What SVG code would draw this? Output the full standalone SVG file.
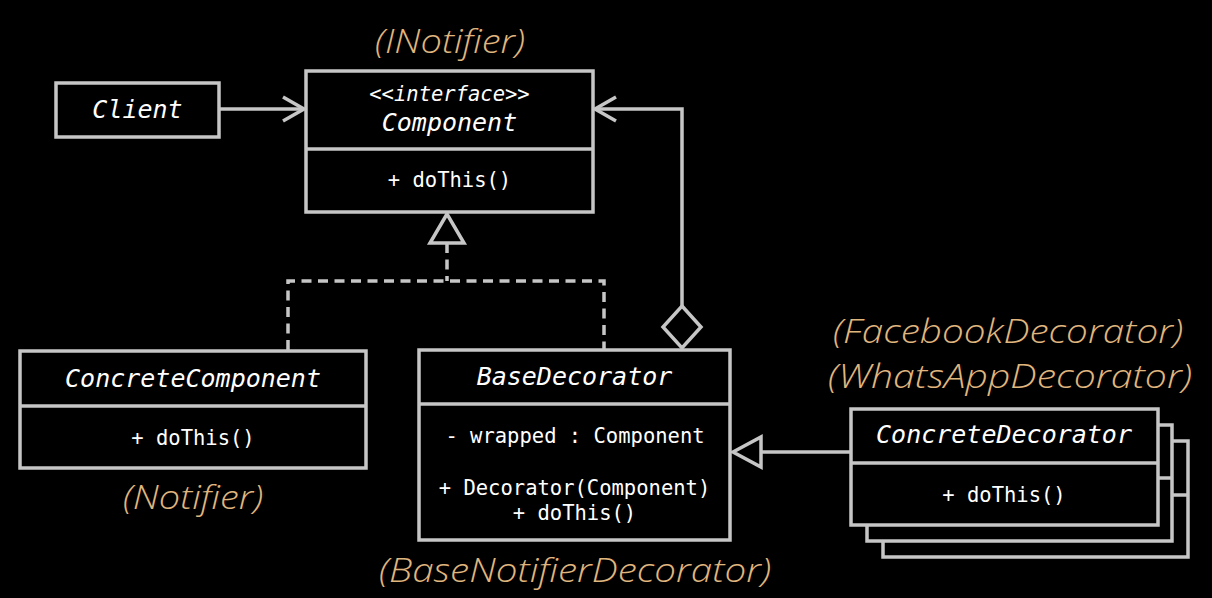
<svg xmlns="http://www.w3.org/2000/svg" width="1212" height="598" viewBox="0 0 1212 598">
<style>
.box{fill:#000;stroke:#c6c6c6;stroke-width:3.5}
.ln{fill:none;stroke:#c6c6c6;stroke-width:3.5}
.dash{fill:none;stroke:#c6c6c6;stroke-width:3.5;stroke-dasharray:10 6.5}
.name{font-family:"DejaVu Sans Mono",monospace;font-style:italic;font-size:25px;fill:#fff;text-anchor:middle}
.mem{font-family:"DejaVu Sans Mono",monospace;font-size:20.5px;fill:#fff;text-anchor:middle}
.lbl{font-family:"Open Sans",Lato,sans-serif;font-style:italic;font-weight:300;font-size:33px;fill:#e0b67f;text-anchor:middle}
</style>
<rect width="1212" height="598" fill="#000"/>
<g id="connectors">
  <line class="ln" x1="219" y1="109" x2="303" y2="109"/>
  <polyline class="ln" points="283,97 304,109 283,121"/>
  <polyline class="ln" points="682,306 682,109 595,109"/>
  <polyline class="ln" points="616,97 595,109 616,121"/>
  <polygon class="ln" points="682,306 701,327 682,348 663,327"/>
  <polyline class="dash" points="447,243 447,281"/>
  <polyline class="dash" points="288,350 288,281 604,281 604,349"/>
  <polygon class="ln" points="447,214 430,243 464,243"/>
  <line class="ln" x1="761" y1="452" x2="851" y2="452"/>
  <polygon class="ln" points="733,452 761,437 761,467"/>
</g>
<g id="client">
  <rect class="box" x="56" y="83" width="163" height="54"/>
  <text class="name" x="137.5" y="118">Client</text>
</g>
<g id="component">
  <rect class="box" x="306" y="71" width="287" height="141"/>
  <line class="ln" x1="306" y1="149" x2="593" y2="149"/>
  <text class="mem" x="449.5" y="101" font-style="italic">&lt;&lt;interface&gt;&gt;</text>
  <text class="name" x="449.5" y="131">Component</text>
  <text class="mem" x="449.5" y="187">+ doThis()</text>
</g>
<g id="concreteComponent">
  <rect class="box" x="20" y="351" width="346" height="117"/>
  <line class="ln" x1="20" y1="406" x2="366" y2="406"/>
  <text class="name" x="193" y="387">ConcreteComponent</text>
  <text class="mem" x="193" y="445">+ doThis()</text>
</g>
<g id="baseDecorator">
  <rect class="box" x="419" y="350" width="311" height="190"/>
  <line class="ln" x1="419" y1="404" x2="730" y2="404"/>
  <text class="name" x="574.5" y="385">BaseDecorator</text>
  <text class="mem" x="575" y="443">- wrapped : Component</text>
  <text class="mem" x="574.5" y="495">+ Decorator(Component)</text>
  <text class="mem" x="574.5" y="520">+ doThis()</text>
</g>
<g id="concreteDecorator">
  <rect class="box" x="883" y="441" width="305" height="116"/>
  <line class="ln" x1="1172" y1="495" x2="1188" y2="495"/>
  <rect class="box" x="867" y="425" width="305" height="116"/>
  <line class="ln" x1="1158" y1="478" x2="1172" y2="478"/>
  <rect class="box" x="851" y="409" width="307" height="116"/>
  <line class="ln" x1="851" y1="463" x2="1158" y2="463"/>
  <text class="name" x="1004" y="443">ConcreteDecorator</text>
  <text class="mem" x="1004" y="502">+ doThis()</text>
</g>
<g id="labels">
  <text class="lbl" x="450" y="53" textLength="150" lengthAdjust="spacingAndGlyphs">(INotifier)</text>
  <text class="lbl" x="193" y="509" textLength="140" lengthAdjust="spacingAndGlyphs">(Notifier)</text>
  <text class="lbl" x="575" y="582" textLength="392" lengthAdjust="spacingAndGlyphs">(BaseNotifierDecorator)</text>
  <text class="lbl" x="1008" y="343" textLength="350" lengthAdjust="spacingAndGlyphs">(FacebookDecorator)</text>
  <text class="lbl" x="1010" y="388" textLength="364" lengthAdjust="spacingAndGlyphs">(WhatsAppDecorator)</text>
</g>
</svg>
